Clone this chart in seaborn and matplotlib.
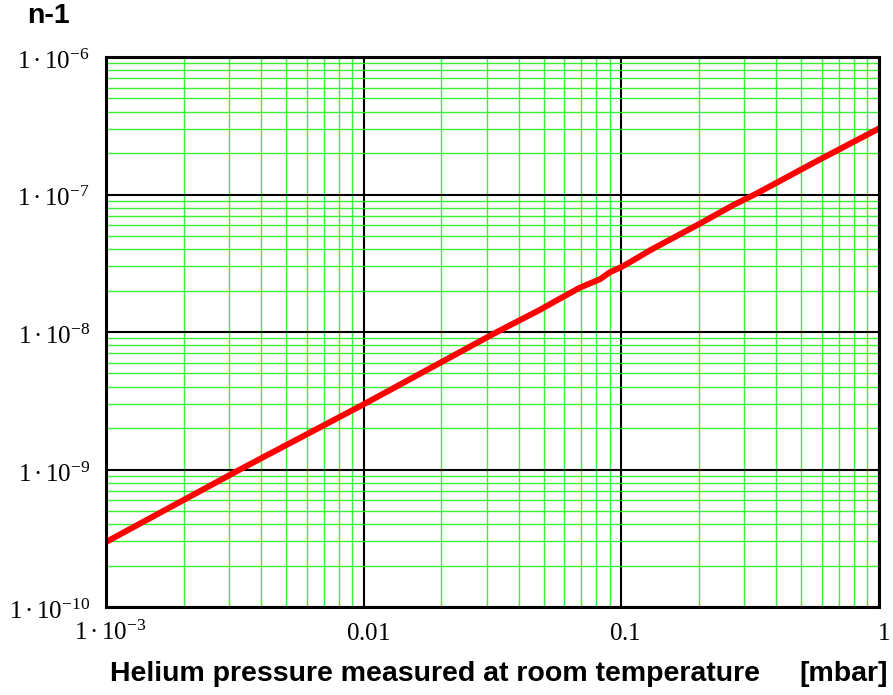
import numpy as np
import pandas as pd
import matplotlib
matplotlib.use("Agg")
import matplotlib.pyplot as plt
import matplotlib.transforms as mtransforms
from matplotlib.ticker import LogLocator, NullFormatter
import seaborn as sns

# Refractivity (n-1) of helium versus pressure at room temperature
pressure_mbar = [0.001, 0.00331, 0.01, 0.0329, 0.0483, 0.0562, 0.0690,
                 0.0826, 0.0903, 0.1005, 0.115, 0.129, 0.202, 0.271,
                 0.336, 0.554, 1.0]
n_minus_1 = [2.97e-10, 1.0e-9, 2.98e-9, 1.0e-8, 1.45e-8, 1.70e-8, 2.10e-8,
             2.42e-8, 2.72e-8, 2.98e-8, 3.45e-8, 3.92e-8, 6.15e-8, 8.35e-8,
             1.02e-7, 1.69e-7, 3.02e-7]

x_ticks = [1e-3, 1e-2, 1e-1, 1.0]
x_tick_labels = ["$1\\,\u00b7\\,10^{-3}$", "$0.01$", "$0.1$", "$1$"]
y_ticks = [1e-10, 1e-9, 1e-8, 1e-7, 1e-6]
y_tick_labels = ["$1\\,\u00b7\\,10^{-10}$", "$1\\,\u00b7\\,10^{-9}$",
                 "$1\\,\u00b7\\,10^{-8}$", "$1\\,\u00b7\\,10^{-7}$",
                 "$1\\,\u00b7\\,10^{-6}$"]

df = pd.DataFrame({"p": pressure_mbar, "n1": n_minus_1})

sns.set_style("white")
plt.rcParams["mathtext.fontset"] = "custom"
plt.rcParams["mathtext.rm"] = "Liberation Serif"
plt.rcParams["mathtext.it"] = "Liberation Serif"
plt.rcParams["mathtext.default"] = "rm"
plt.rcParams["text.color"] = "black"

fig = plt.figure(figsize=(8.93, 6.95), dpi=100)
ax = fig.add_axes([106 / 893, (695 - 607) / 695, (879 - 106) / 893, (607 - 57) / 695])
ax.set_xscale("log")
ax.set_yscale("log")
ax.set_xlim(1e-3, 1.0)
ax.set_ylim(1e-10, 1e-6)

# grid: green minor decades, black major decades
ax.xaxis.set_minor_locator(LogLocator(base=10, subs=np.arange(2, 10)))
ax.yaxis.set_minor_locator(LogLocator(base=10, subs=np.arange(2, 10)))
ax.xaxis.set_minor_formatter(NullFormatter())
ax.yaxis.set_minor_formatter(NullFormatter())
ax.grid(True, which="minor", color="#22f022", lw=1.0, alpha=0.9)
ax.grid(True, which="major", color="black", lw=1.5)
ax.set_axisbelow(True)

sns.lineplot(data=df, x="p", y="n1", ax=ax, color="#ff0000", lw=4.3,
             solid_capstyle="round", zorder=5)

ax.set_xticks(x_ticks)
ax.set_yticks(y_ticks)
ax.set_xticklabels([])
ax.set_yticklabels([])
ax.tick_params(which="both", length=0)
ax.set_xlabel("")
ax.set_ylabel("")
for s in ax.spines.values():
    s.set_color("black")
    s.set_linewidth(2.2)
    s.set_zorder(6)

# tick labels on a common baseline
px = 0.72
xoff = mtransforms.ScaledTranslation(4 * px / 72, -33 * px / 72, fig.dpi_scale_trans)
for v, lab in zip(x_ticks, x_tick_labels):
    ax.text(v, 0, lab, transform=ax.get_xaxis_transform() + xoff,
            ha="center", va="baseline", fontsize=18, color="black")
yoff = mtransforms.ScaledTranslation(-16 * px / 72, -12 * px / 72, fig.dpi_scale_trans)
for v, lab in zip(y_ticks, y_tick_labels):
    ax.text(0, v, lab, transform=ax.get_yaxis_transform() + yoff,
            ha="right", va="baseline", fontsize=18, color="black")

fig.text(48 / 893, 1 - 16 / 695, "n-1", ha="center", va="center", color="black",
         fontsize=20.5, fontweight="bold", family="Liberation Sans")
fig.text(110 / 893, 1 - 681 / 695, "Helium pressure measured at room temperature",
         ha="left", va="baseline", fontsize=20.5, fontweight="bold",
         family="Liberation Sans", color="black")
fig.text(888 / 893, 1 - 681 / 695, "[mbar]", ha="right", va="baseline",
         fontsize=20.5, fontweight="bold", family="Liberation Sans", color="black")

fig.savefig("out.png", dpi=100)
